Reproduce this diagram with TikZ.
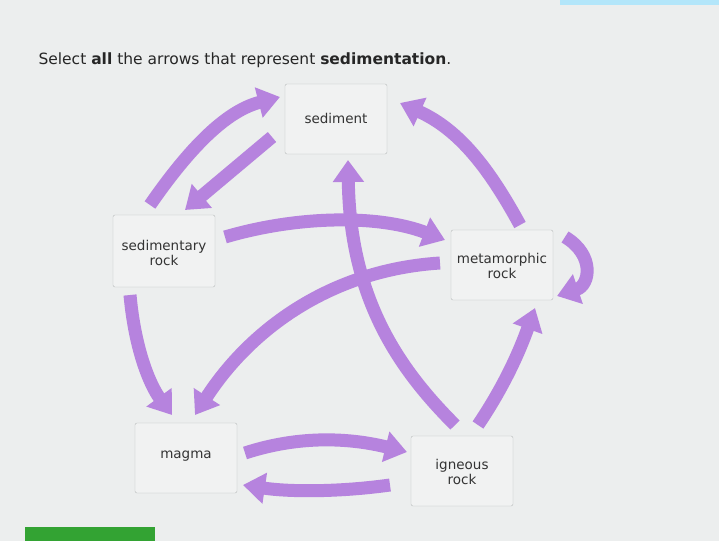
\documentclass[tikz,border=0pt]{standalone}
\usepackage{fontspec}
\setmainfont{DejaVu Sans}
\usetikzlibrary{arrows.meta}
\definecolor{purp}{HTML}{B683DE}
\definecolor{bg}{HTML}{ECEEEE}
\definecolor{boxbg}{HTML}{F1F2F2}
\definecolor{boxln}{HTML}{B8BCBC}
\begin{document}
\begin{tikzpicture}[x=1pt,y=-1pt,
  box/.style={draw=boxln,fill=boxbg,rounded corners=2pt,minimum width=102pt,minimum height=70pt,align=center,font=\fontsize{13.5}{15}\selectfont,text=black!80},
  lab/.style={align=center,font=\fontsize{13.5}{15}\selectfont,text=black!80},
  arr/.style={line width=13pt,draw=purp,-{Triangle[width=30pt,length=22pt]}}]
\useasboundingbox (0,0) rectangle (719,541);
\fill[bg] (0,0) rectangle (719,541);
\fill[cyan!30] (560,0) rectangle (719,5);
\fill[green!55!black!80] (25,527) rectangle (155,541);
\node[anchor=west,font=\fontsize{15.5}{17}\selectfont,text=black!85] (title) at (35,60) {Select \textbf{all} the arrows that represent \textbf{sedimentation}.};
\node[box] (sed) at (336,119) {};
\node[lab] (sedt) at (336,118) {sediment};
\node[box,minimum height=72pt] (sr) at (164,251) {};
\node[lab] (srt) at (164,253) {sedimentary\\rock};
\node[box] (met) at (502,265) {};
\node[lab] (mett) at (502,266) {metamorphic\\rock};
\node[box] (mag) at (186,458) {};
\node[lab] (magt) at (186,456) {magma};
\node[box] (ign) at (462,471) {};
\node[lab] (ignt) at (462,472) {igneous\\rock};
\draw[arr] (150,205) .. controls (195,140) and (230,110) .. (280,97);
\draw[arr] (272,137) -- (185,210);
\draw[arr] (520,225) .. controls (490,170) and (460,130) .. (400,103);
\draw[arr] (225,237) .. controls (300,215) and (380,215) .. (445,240);
\draw[arr] (440,263) .. controls (330,270) and (250,330) .. (195,415);
\draw[arr] (455,425) .. controls (400,370) and (350,300) .. (348,160);
\draw[arr] (130,295) .. controls (135,350) and (150,385) .. (172,415);
\draw[arr] (245,453) .. controls (300,435) and (350,438) .. (407,452);
\draw[arr] (390,485) .. controls (340,492) and (290,492) .. (243,485);
\draw[arr] (478,425) .. controls (505,385) and (520,350) .. (535,308);
\draw[arr] (565,237) .. controls (595,255) and (590,285) .. (557,296);
\end{tikzpicture}
\end{document}
